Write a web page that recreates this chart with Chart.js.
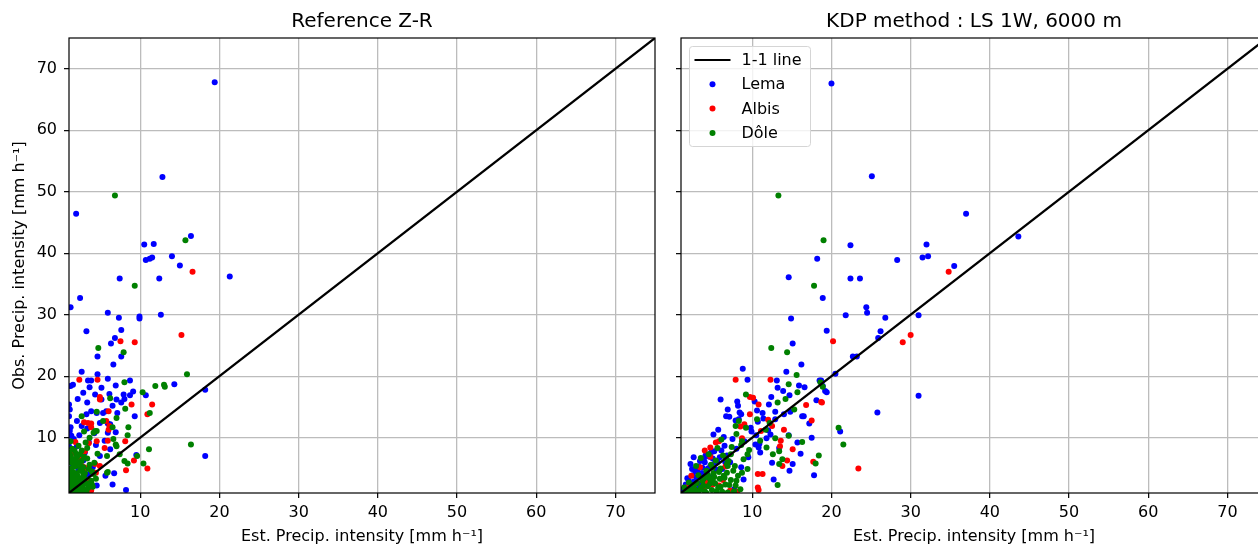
<!DOCTYPE html>
<html>
<head>
<meta charset="utf-8">
<script src="https://cdn.jsdelivr.net/npm/chart.js@4.4.0/dist/chart.umd.min.js"></script>
<style>
  html, body { margin: 0; padding: 0; background: #fff; overflow: hidden; }
  #wrap { position: relative; width: 1258px; height: 545px; overflow: hidden; }
  canvas { position: absolute; top: 0; }
  #zr { left: 0; }
  #kdp { left: 660px; }
</style>
</head>
<body>
<div id="wrap">
  <canvas id="zr" width="724" height="545"></canvas>
  <canvas id="kdp" width="628" height="545"></canvas>
</div>
<script>
// axis range and ticks
const axisMin = 1;
const axisMax = 75;
const tickVals = [10, 20, 30, 40, 50, 60, 70];
const seriesNames = ['1-1 line', 'Lema', 'Albis', 'Dôle'];
const seriesColors = ['#000000', '#0000ff', '#ff0000', '#008000'];

// Reference Z-R panel : [estimated, observed]
const zrLema = [
  [19.4,67.8],[12.8,52.4],[1.9,46.4],[16.4,42.8],[10.5,41.4],[11.7,41.5],[10.7,38.9],[11.2,39.1],[11.5,39.3],
  [14.0,39.5],[15.0,38.0],[21.3,36.2],[7.4,35.9],[12.4,35.9],[2.4,32.7],[1.2,31.2],[5.9,30.3],[7.3,29.5],
  [9.9,29.7],[9.9,29.4],[12.6,30.0],[3.2,27.3],[7.6,27.5],[6.8,26.2],[6.3,25.3],[4.6,23.2],[7.6,23.2],
  [6.6,21.9],[2.6,20.7],[3.4,19.3],[3.8,19.3],[4.6,20.3],[5.9,19.6],[1.5,18.6],[1.2,18.4],[5.1,18.1],
  [6.9,18.5],[8.7,19.3],[9.1,17.5],[7.9,17.0],[8.7,16.9],[10.7,16.9],[14.3,18.7],[18.2,17.8],[9.3,13.5],
  [18.2,7.0],[9.5,7.2],[6.7,4.2],[6.5,2.4],[8.2,1.5],
  [1.0,15.4],[1.1,14.6],[1.0,13.5],[1.2,11.7],[1.1,11.1],[1.3,10.3],[1.0,8.6],[1.2,7.3],[2.0,12.7],
  [3.2,13.8],[3.3,15.7],[3.8,14.3],[4.5,14.0],[5.3,14.0],[5.7,14.3],[5.1,16.2],[2.1,16.3],[3.6,18.2],
  [6.1,17.1],[7.0,16.2],[7.6,15.7],[8.0,16.3],[2.6,11.9],[3.3,11.5],[4.9,12.4],[5.9,12.3],[6.2,12.2],
  [5.9,10.8],[6.9,10.9],[4.2,10.7],[3.5,9.3],[5.5,9.5],[2.0,8.6],[3.0,7.6],[4.9,7.0],[5.6,3.8],[4.5,2.2],
  [1.5,5.5],[2.2,4.8],[1.3,3.2],[2.8,6.3],[1.8,2.5],[3.4,4.0],[1.2,1.8],[4.0,5.2],[2.5,3.0],[1.6,9.8],
  [2.3,10.4],[4.4,8.8],[6.2,8.1],[7.1,14.0],[6.5,15.2],[2.8,17.3],[4.3,17.0],[1.0,5.0],[1.4,6.4]
];
const zrAlbis = [
  [16.6,37.0],[7.5,25.7],[9.3,25.5],[15.2,26.7],[2.3,19.4],[4.6,19.4],[11.5,15.4],[8.9,15.4],[10.9,13.8],
  [8.1,9.4],[9.2,6.3],[10.9,5.0],[8.2,4.7],[2.9,12.5],[3.4,12.4],[3.8,12.3],[3.8,11.7],[1.8,9.3],
  [3.5,9.1],[4.9,16.2],[5.7,12.7],[6.1,11.9],[2.3,6.6],[2.6,5.4],[3.6,3.0],[3.8,1.4],[4.9,5.4],
  [5.9,9.5],[4.9,16.6],[6.0,14.3],[6.0,11.3],[4.5,9.4],[4.3,5.7],[2.9,5.2],[3.4,1.3],[1.3,4.2],
  [2.0,2.8],[1.6,6.0],[3.0,7.8],[4.4,4.3],[1.1,2.0],[2.7,1.8],[1.4,7.5],[5.5,8.3],[1.9,3.6],[3.2,5.0]
];
const zrDole = [
  [6.8,49.4],[15.7,42.1],[9.3,34.7],[4.7,24.6],[7.9,23.9],[15.9,20.3],[8.0,19.0],[10.3,17.4],[11.9,18.4],
  [13.0,18.6],[13.1,18.3],[8.1,14.7],[11.2,14.0],[8.5,11.7],[8.4,10.4],[7.0,13.2],[6.5,11.7],[6.6,9.8],
  [6.9,8.9],[7.0,8.6],[16.4,8.9],[9.6,7.0],[11.1,8.1],[10.4,5.8],[8.4,5.8],[8.0,6.2],[5.9,4.4],[4.5,11.1],
  [3.3,8.3],[4.2,5.9],[3.8,3.0],[3.6,2.3],[2.6,13.5],[6.2,16.4],[5.3,12.7],[4.3,11.1],[5.8,7.0],[7.4,7.3],
  [4.1,4.1],[5.8,4.3],[3.9,2.4],
  [1.1,1.2],[1.3,1.5],[1.5,1.1],[1.2,2.0],[1.6,1.8],[1.9,1.3],[2.2,1.6],[1.4,2.6],[1.8,2.3],[2.4,2.1],
  [2.0,2.9],[1.2,3.1],[1.6,3.4],[2.6,2.7],[2.9,1.5],[1.1,4.0],[1.5,4.4],[2.1,3.8],[2.7,3.5],[3.1,2.6],
  [1.3,5.0],[1.8,5.3],[2.4,4.6],[3.0,4.2],[1.1,6.0],[1.6,6.5],[2.2,5.9],[2.8,5.2],[1.2,7.1],[1.9,7.4],
  [3.3,6.6],[3.5,4.9],[2.5,1.1],[3.4,1.8],[1.0,2.4],[4.0,2.0],[4.4,3.3],[2.0,6.8],[1.4,8.2],[2.6,7.9],
  [3.9,4.5],[4.6,7.4],[3.6,10.0],[4.1,10.8],[2.9,11.0],[4.5,14.2],[1.7,1.5],[2.3,2.4],[1.3,2.2],[3.2,1.2],
  [1.0,1.6],[1.2,2.5],[1.4,3.8],[1.7,2.8],[1.9,4.2],[2.1,2.2],[2.3,3.2],[2.5,5.3],[2.8,4.3],[1.5,5.8],
  [1.2,4.6],[1.8,6.1],[2.6,6.2],[3.0,3.3],[3.3,2.5],[2.7,2.0],[2.0,1.1],[1.1,3.5],[1.6,1.3],[2.9,6.9],
  [3.6,5.6],[1.3,6.6],[2.4,7.3],[1.7,7.9],[1.0,7.6],[2.2,8.7],[3.1,9.2],[1.2,9.4]
];

// KDP method panel : [estimated, observed]
const kdpLema = [
  [20.0,67.6],[25.1,52.5],[22.4,41.3],[18.2,39.1],[28.3,38.9],[31.5,39.3],[32.2,39.5],[32.0,41.4],[14.6,36.1],
  [22.4,35.9],[23.6,35.9],[18.9,32.7],[24.4,31.2],[24.5,30.3],[21.8,29.9],[26.8,29.5],[31.0,29.9],[14.9,29.4],
  [19.4,27.4],[26.2,27.3],[25.9,26.2],[15.1,25.3],[22.7,23.2],[23.2,23.2],[37.0,46.4],[43.6,42.7],[35.5,37.9],
  [20.5,20.4],[18.5,19.3],[18.9,18.4],[19.4,17.4],[31.0,16.8],[16.2,21.9],[14.3,20.7],[8.8,21.2],[9.4,19.4],
  [13.1,19.3],[15.9,18.5],[16.6,18.2],[13.2,18.1],[13.9,17.6],[14.7,16.9],[12.4,16.6],[18.7,19.3],[19.2,17.6],
  [18.1,16.1],[6.0,16.2],[6.9,14.6],[8.2,15.2],[6.7,13.5],[7.1,13.4],[8.4,14.1],[8.6,13.8],[10.3,15.9],
  [12.1,15.4],[12.9,14.2],[14.0,13.8],[14.8,14.2],[16.5,13.5],[17.2,12.3],[21.1,11.0],[25.8,14.1],[17.5,10.0],
  [15.7,9.2],[17.8,3.9],[15.1,5.7],[14.7,4.6],[12.5,5.9],[14.6,10.4],[7.9,12.8],[8.3,13.0],[5.7,11.3],
  [5.1,10.5],[2.6,6.8],[2.2,5.7],[8.1,15.9],[10.6,14.4],[11.3,14.0],[12.9,13.0],[16.3,13.5],[12.3,10.5],
  [10.4,8.9],[10.8,8.4],[8.9,3.2],[7.7,1.6],
  [10.7,12.6],[11.4,13.1],[9.8,11.6],[10.5,10.4],[12.0,11.2],[9.0,9.4],[7.5,9.8],[6.5,8.7],[8.0,8.2],
  [4.8,7.6],[3.9,6.6],[3.2,5.3],[4.4,5.0],[5.6,6.1],[6.2,4.9],[3.0,3.5],[2.0,3.0],[1.6,2.4],[1.3,1.6],
  [3.6,4.2],[4.9,3.6],[5.5,4.8],[7.2,6.0],[6.8,7.1],[8.6,5.2],[9.5,6.8],[2.8,4.6],[1.9,1.8],[4.2,2.8],
  [11.0,7.6],[13.4,8.3],[16.1,7.4],[12.7,3.2],[9.9,11.0],[10.9,9.0],[11.8,9.9],[6.4,10.1],[4.0,6.0],
  [3.4,6.2],[4.6,6.9],[5.2,7.8],[2.5,3.9],[3.5,2.6],[2.3,2.0],
  [1.2,1.3],[1.5,1.8],[2.1,2.6],[2.7,2.9],[3.1,4.4],[3.8,3.6],[4.3,4.1],[4.7,5.4],[5.3,5.9],[5.9,6.8],
  [6.1,7.9],[3.3,2.0],[4.5,3.0],[2.4,4.9],[1.8,3.4],[5.0,6.6],[4.1,7.1],[3.7,5.1],[6.6,6.0]
];
const kdpAlbis = [
  [20.2,25.7],[29.0,25.5],[30.0,26.7],[34.8,37.0],[18.7,15.8],[7.9,19.4],[12.3,19.4],[9.7,16.6],[10.1,16.5],
  [10.8,15.4],[18.8,15.7],[16.8,15.3],[17.5,12.8],[23.4,5.0],[15.1,8.1],[17.7,6.1],[13.8,5.4],[14.4,6.3],
  [13.5,8.6],[14.0,11.3],[10.7,4.1],[11.3,4.1],[10.7,1.9],[10.8,1.5],[12.5,11.9],[11.1,11.1],[9.7,13.8],
  [5.4,9.2],[5.8,9.4],[4.7,8.4],[4.7,6.9],[2.3,3.8],[3.7,3.2],[4.1,2.7],[5.8,2.2],[8.5,11.8],[13.6,9.5],
  [12.0,12.9],[9.0,12.2],[3.4,5.2],[5.0,2.4],[6.3,3.1],[7.2,1.4],[8.1,1.2],[1.7,1.9],[3.8,1.6],[6.6,5.3],
  [8.7,9.9],[4.0,7.9]
];
const kdpDole = [
  [13.3,49.4],[19.0,42.1],[17.8,34.7],[12.4,24.6],[14.4,23.9],[15.6,20.2],[14.6,18.7],[15.7,17.4],[14.2,16.3],
  [18.9,18.3],[18.6,19.0],[9.2,17.0],[13.2,15.7],[15.3,14.6],[20.9,11.6],[21.5,8.9],[16.3,9.3],[18.4,7.1],
  [18.0,5.8],[13.2,2.3],[13.4,5.7],[14.6,10.3],[8.0,10.6],[8.3,12.7],[7.9,11.9],[9.2,11.6],[10.6,13.0],
  [11.7,11.3],[8.7,9.4],[9.4,7.3],[6.8,5.7],[13.4,7.8],[13.8,6.5],[12.2,12.4],[11.8,8.4],[12.6,7.3],
  [11.0,9.5],[12.9,9.9],
  [3.0,1.2],[3.5,1.8],[4.0,1.3],[4.4,2.1],[4.9,1.5],[5.3,2.6],[5.7,1.9],[6.2,1.2],[3.7,3.0],[4.6,3.4],
  [5.1,4.2],[5.9,3.3],[6.6,2.4],[2.6,2.3],[2.2,1.5],[1.7,1.2],[6.0,5.0],[6.8,4.3],[7.3,3.1],[4.2,4.6],
  [3.2,3.9],[7.0,6.2],[6.3,7.1],[5.4,6.3],[8.2,3.8],[7.8,5.4],[8.9,6.5],[9.4,4.9],[2.9,5.4],[4.8,5.6],
  [5.6,8.3],[6.1,9.7],[7.4,8.5],[8.6,8.8],[9.6,8.0],[3.5,6.7],[4.5,7.3],[1.4,1.9],[2.0,2.7],[6.9,1.1],
  [7.9,2.2],[5.0,3.0],[3.8,2.2],[6.4,3.8],[8.5,1.6],[7.6,4.6],
  [2.4,1.1],[3.3,1.4],[4.2,1.0],[4.7,2.6],[5.5,1.3],[6.0,2.0],[5.2,3.6],[6.5,3.5],[7.1,2.3],[7.7,1.3],
  [8.0,3.0],[3.9,3.4],[4.4,3.9],[5.8,4.4],[6.9,5.4],[5.0,5.1],[3.0,2.6],[2.7,1.7],[8.7,4.3],[7.3,7.3],[6.7,6.6]
];

Chart.defaults.font.family = "'DejaVu Sans', sans-serif";
Chart.defaults.color = '#000';

const toPts = arr => arr.map(p => ({ x: p[0], y: p[1] }));

// black frame around the plot + title centred over the plot
const framePlugin = {
  id: 'frame',
  afterDraw(chart, args, opts) {
    const { ctx, chartArea: a } = chart;
    ctx.save();
    ctx.strokeStyle = '#000';
    ctx.lineWidth = 1.2;
    ctx.strokeRect(a.left, a.top, a.right - a.left, a.bottom - a.top);
    ctx.font = "20px 'DejaVu Sans'";
    ctx.fillStyle = '#000';
    ctx.textAlign = 'center';
    ctx.textBaseline = 'middle';
    ctx.fillText(opts.title, (a.left + a.right) / 2, 22);
    ctx.restore();
  }
};

// legend box drawn inside the plot, top left
const innerLegend = {
  id: 'innerLegend',
  afterDraw(chart, args, opts) {
    if (!opts.show) return;
    const { ctx, chartArea: a } = chart;
    const x0 = a.left + 8.5, y0 = a.top + 8.5, w = 121, h = 100;
    ctx.save();
    ctx.beginPath();
    ctx.roundRect(x0, y0, w, h, 3);
    ctx.fillStyle = 'rgba(255,255,255,0.8)';
    ctx.fill();
    ctx.strokeStyle = '#d5d5d5';
    ctx.lineWidth = 1;
    ctx.stroke();
    ctx.font = "16px 'DejaVu Sans'";
    ctx.textBaseline = 'middle';
    seriesNames.forEach((name, i) => {
      const cy = y0 + 13.5 + i * 24.3;
      if (i === 0) {
        ctx.strokeStyle = seriesColors[0];
        ctx.lineWidth = 2;
        ctx.beginPath();
        ctx.moveTo(x0 + 5, cy);
        ctx.lineTo(x0 + 41, cy);
        ctx.stroke();
      } else {
        ctx.fillStyle = seriesColors[i];
        ctx.beginPath();
        ctx.arc(x0 + 23, cy, 3, 0, Math.PI * 2);
        ctx.fill();
      }
      ctx.fillStyle = '#000';
      ctx.fillText(name, x0 + 52, cy + 1);
    });
    ctx.restore();
  }
};

function makeChart(id, title, lema, albis, dole, isLeft) {
  const axisW = isLeft ? 69 : 21;
  const setTicks = scale => { scale.ticks = tickVals.map(v => ({ value: v })); };
  const gridOpts = { color: '#bcbcbc', lineWidth: 1.3, tickColor: '#000', tickLength: 5, tickWidth: 1.2 };
  return new Chart(document.getElementById(id), {
    type: 'scatter',
    data: {
      datasets: [
        { label: seriesNames[0], data: [axisMin, axisMax].map(v => ({ x: v, y: v })), showLine: true,
          borderColor: seriesColors[0], borderWidth: 2.2, pointRadius: 0, order: 0 },
        { label: seriesNames[1], data: toPts(lema), backgroundColor: seriesColors[1], pointRadius: 3, borderWidth: 0, order: 3 },
        { label: seriesNames[2], data: toPts(albis), backgroundColor: seriesColors[2], pointRadius: 3, borderWidth: 0, order: 2 },
        { label: seriesNames[3], data: toPts(dole), backgroundColor: seriesColors[3], pointRadius: 3, borderWidth: 0, order: 1 }
      ]
    },
    options: {
      responsive: false,
      animation: false,
      layout: { padding: { left: 0, right: axisW, top: 38, bottom: 0 } },
      plugins: {
        legend: { display: false },
        tooltip: { enabled: false },
        frame: { title: title },
        innerLegend: { show: !isLeft }
      },
      scales: {
        x: {
          min: axisMin, max: axisMax, z: 1,
          afterBuildTicks: setTicks,
          afterFit: s => { s.height = 52; },
          grid: gridOpts,
          border: { display: false },
          ticks: { font: { size: 16 }, padding: 5, maxRotation: 0 },
          title: { display: true, text: 'Est. Precip. intensity [mm h⁻¹]', font: { size: 16, lineHeight: 1 }, padding: { top: 0, bottom: 0 } }
        },
        y: {
          min: axisMin, max: axisMax, z: 1,
          afterBuildTicks: setTicks,
          afterFit: s => { s.width = axisW; },
          grid: gridOpts,
          border: { display: false },
          ticks: { font: { size: 16 }, padding: 7, callback: v => isLeft ? v : '' },
          title: { display: isLeft, text: 'Obs. Precip. intensity [mm h⁻¹]', font: { size: 16 }, padding: { top: 10.5, bottom: 0 } }
        }
      }
    },
    plugins: [framePlugin, innerLegend]
  });
}

makeChart('zr', 'Reference Z-R', zrLema, zrAlbis, zrDole, true);
makeChart('kdp', 'KDP method : LS 1W, 6000 m', kdpLema, kdpAlbis, kdpDole, false);
</script>
</body>
</html>
